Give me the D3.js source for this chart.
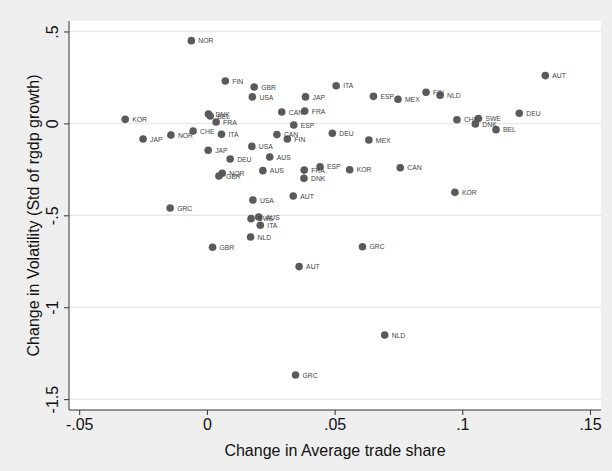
<!DOCTYPE html>
<html>
<head>
<meta charset="utf-8">
<script src="https://cdn.jsdelivr.net/npm/d3@7"></script>
<style>
    body { margin: 0; background: #efefef; }
    svg { display: block; font-family: "Liberation Sans", Arial, sans-serif; }
</style>
</head>
<body>
<div id="chart"></div>
<script>
// Country codes, one per point
const countries = [
    "NOR", "FIN", "GBR", "USA", "DNK", "BEL", "FRA", "KOR", "JAP", "NOR",
    "CHE", "ITA", "JAP", "USA", "DEU", "AUS", "CAN", "CAN", "ITA", "JAP",
    "ESP", "MEX", "FIN", "NLD", "FRA", "ESP", "FIN", "DEU", "MEX", "AUT",
    "DEU", "CHE", "SWE", "DNK", "BEL", "NOR", "GBR", "AUS", "USA", "GRC",
    "AUS", "SWE", "ITA", "NLD", "GBR", "FRA", "ESP", "DNK", "KOR", "CAN",
    "AUT", "GRC", "AUT", "KOR", "NLD", "GRC"
];
// Change in average trade share
const tradeChange = [
    -0.0061, 0.0072, 0.0185, 0.0178, 0.0006, 0.0013, 0.0036, -0.032, -0.025, -0.0141,
    -0.0054, 0.0057, 0.0005, 0.0176, 0.0091, 0.0246, 0.0293, 0.0274, 0.0506, 0.0386,
    0.0652, 0.0748, 0.0858, 0.0913, 0.0383, 0.034, 0.0315, 0.0491, 0.0634, 0.1325,
    0.1223, 0.0979, 0.1063, 0.1051, 0.1132, 0.006, 0.0047, 0.0219, 0.018, -0.0144,
    0.0203, 0.0173, 0.0209, 0.0171, 0.0022, 0.0381, 0.0443, 0.038, 0.0559, 0.0757,
    0.0338, 0.0609, 0.0361, 0.0971, 0.0696, 0.0347
];
// Change in volatility (std of rgdp growth)
const volChange = [
    0.450, 0.231, 0.198, 0.144, 0.051, 0.040, 0.008, 0.022, -0.085, -0.063,
    -0.041, -0.059, -0.146, -0.125, -0.194, -0.183, 0.062, -0.061, 0.205, 0.144,
    0.147, 0.131, 0.169, 0.153, 0.067, -0.009, -0.085, -0.054, -0.090, 0.260,
    0.055, 0.020, 0.026, -0.003, -0.034, -0.271, -0.286, -0.257, -0.417, -0.460,
    -0.509, -0.518, -0.554, -0.618, -0.674, -0.254, -0.236, -0.299, -0.252, -0.241,
    -0.395, -0.671, -0.779, -0.375, -1.151, -1.369
];
const xTicks = [-0.05, 0, 0.05, 0.1, 0.15];
const xTickLabels = ["-.05", "0", ".05", ".1", ".15"];
const yTicks = [0.5, 0, -0.5, -1, -1.5];
const yTickLabels = [".5", "0", "-.5", "-1", "-1.5"];

const width = 612,
    height = 471,
    margin = { top: 21, right: 11, bottom: 61, left: 69 };

const data = countries.map((c, i) => ({
    country: c,
    x: tradeChange[i],
    y: volChange[i],
}));

const svg = d3
    .select("#chart")
    .append("svg")
    .attr("width", width)
    .attr("height", height);

svg.append("rect")
    .attr("width", width)
    .attr("height", height)
    .attr("fill", "#efefef");

const x = d3
    .scaleLinear()
    .domain([-0.054, 0.1543])
    .range([margin.left, width - margin.right]);

const y = d3
    .scaleLinear()
    .domain([-1.559, 0.557])
    .range([height - margin.bottom, margin.top]);

// Plot region
svg.append("rect")
    .attr("x", margin.left)
    .attr("y", margin.top)
    .attr("width", width - margin.left - margin.right)
    .attr("height", height - margin.top - margin.bottom)
    .attr("fill", "white");

// Horizontal grid lines
svg.append("g")
    .selectAll("line")
    .data(yTicks)
    .join("line")
    .attr("x1", margin.left)
    .attr("x2", width - margin.right)
    .attr("y1", (d) => y(d))
    .attr("y2", (d) => y(d))
    .attr("stroke", "#e9e9e9")
    .attr("stroke-width", 1.5);

// X axis
const xAxis = svg
    .append("g")
    .attr("transform", `translate(0,${height - margin.bottom})`)
    .call(
        d3.axisBottom(x)
            .tickValues(xTicks)
            .tickSize(5)
            .tickFormat((d, i) => xTickLabels[i])
    );
xAxis.select(".domain").attr("stroke", "#333").attr("d", `M${margin.left},0H${width - margin.right}`);
xAxis.selectAll(".tick line").attr("stroke", "#333");
xAxis.selectAll(".tick text")
    .attr("y", 9)
    .attr("font-size", 16)
    .attr("font-family", "Liberation Sans, Arial, sans-serif")
    .attr("fill", "#111");

// Y axis
const yAxis = svg
    .append("g")
    .attr("transform", `translate(${margin.left},0)`)
    .call(
        d3.axisLeft(y)
            .tickValues(yTicks)
            .tickSize(5)
            .tickFormat((d, i) => yTickLabels[i])
    );
yAxis.select(".domain").attr("stroke", "#333").attr("d", `M0,${margin.top}V${height - margin.bottom}`);
yAxis.selectAll(".tick line").attr("stroke", "#333");
yAxis.selectAll(".tick text")
    .attr("x", null)
    .attr("dy", null)
    .attr("text-anchor", "middle")
    .attr("transform", "translate(-11,0) rotate(-90)")
    .attr("font-size", 16)
    .attr("font-family", "Liberation Sans, Arial, sans-serif")
    .attr("fill", "#111");

// Points
svg.append("g")
    .selectAll("circle")
    .data(data)
    .join("circle")
    .attr("cx", (d) => x(d.x))
    .attr("cy", (d) => y(d.y))
    .attr("r", 3.8)
    .attr("fill", "#5a5a5a");

// Point labels
svg.append("g")
    .selectAll("text")
    .data(data)
    .join("text")
    .attr("x", (d) => x(d.x) + 7)
    .attr("y", (d) => y(d.y) + 2.6)
    .attr("font-size", 6.8)
    .attr("fill", "#444")
    .text((d) => d.country);

// Axis titles
svg.append("text")
    .attr("text-anchor", "middle")
    .attr("x", (margin.left + width - margin.right) / 2)
    .attr("y", 456)
    .attr("font-size", 16)
    .attr("fill", "#111")
    .text("Change in Average trade share");

svg.append("text")
    .attr("text-anchor", "middle")
    .attr("transform", `translate(39,${(margin.top + height - margin.bottom) / 2}) rotate(-90)`)
    .attr("font-size", 16)
    .attr("fill", "#111")
    .text("Change in Volatility (Std of rgdp growth)");
</script>
</body>
</html>
